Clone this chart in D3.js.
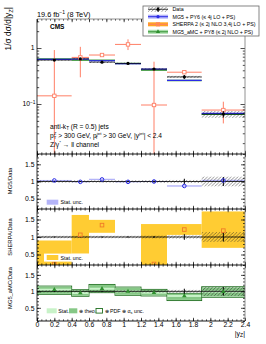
<!DOCTYPE html>
<html lang="en">
<head>
<meta charset="UTF-8">
<title>Z + jet |y_Z|</title>
<script src="https://d3js.org/d3.v7.min.js"></script>
<style>
  body { margin: 0; background: #fff; }
  svg { display: block; font-family: "Liberation Sans", Arial, sans-serif; }
  .axis path { display: none; }
  .axis line { stroke: #000; stroke-width: 0.7; }
  .axis text { font-size: 6.8px; fill: #000; }
</style>
</head>
<body>
<svg width="266" height="344"></svg>
<script>
// bins in |y_Z|
const binEdges = [0, 0.4, 0.6, 0.9, 1.2, 1.5, 1.9, 2.4];
// measured data, normalised cross section
const dataVal = [0.61, 0.64, 0.56, 0.53, 0.42, 0.305, 0.066];
const dataStat = [0.015, 0.015, 0.02, 0.02, 0.03, 0.08, 0.13];   // relative
const dataTot = [0.035, 0.035, 0.035, 0.035, 0.04, 0.045, 0.14]; // relative (hatched)
// MG5 + PY6, ratio to data
const mg5Ratio = [1.03, 0.99, 1.06, 0.99, 1.0, 0.87, 1.03];
const mg5Stat = [0.015, 0.015, 0.02, 0.015, 0.015, 0.02, 0.02];
// SHERPA 2
const sherpaVal = [0.14, 0.68, 0.75, 1.16, 0.096, 0.37, 0.078];
const sherpaLo = [0.005, 0.30, 0.72, 0.92, 0.005, 0.36, 0.045];
const sherpaHi = [0.92, 1.05, 0.79, 1.43, 0.57, 0.38, 0.11];
const sherpaBandLo = [0.05, 0.52, 1.12, 1.9, 0.05, 1.06, 0.69];
const sherpaBandHi = [0.9, 1.63, 1.49, 2.5, 1.37, 1.37, 1.73];
// MG5_aMC + PY8, ratio to data
const amcRatio = [1.05, 0.95, 1.08, 1.0, 0.96, 0.86, 0.99];
const amcStatLo = [1.02, 0.92, 1.05, 0.97, 0.93, 0.83, 0.96];
const amcStatHi = [1.08, 0.98, 1.11, 1.03, 0.99, 0.89, 1.02];
const amcTheoLo = [0.925, 0.865, 0.975, 0.895, 0.875, 0.74, 0.84];
const amcTheoHi = [1.145, 1.035, 1.195, 1.115, 1.045, 0.925, 1.12];
const amcTotLo = [0.91, 0.85, 0.96, 0.88, 0.86, 0.72, 0.82];
const amcTotHi = [1.16, 1.05, 1.21, 1.13, 1.06, 0.94, 1.14];

const xTicks = [0, 0.2, 0.4, 0.6, 0.8, 1, 1.2, 1.4, 1.6, 1.8, 2, 2.2, 2.4];
const ratioTicks = [0.5, 1, 1.5];
const legendLabels = ["Data", "MG5 + PY6 (\u2264 4j LO + PS)",
  "SHERPA 2 (\u2264 2j NLO 3,4j LO + PS)", "MG5_aMC + PY8 (\u2264 2j NLO + PS)"];

const bins = dataVal.map((v, i) => ({
  i, x0: binEdges[i], x1: binEdges[i + 1], xc: (binEdges[i] + binEdges[i + 1]) / 2, v
}));

const svg = d3.select("svg");
const defs = svg.append("defs");
defs.append("pattern").attr("id", "hatch").attr("patternUnits", "userSpaceOnUse")
  .attr("width", 3.4).attr("height", 3.4)
  .append("path").attr("d", "M-1,1 l2,-2 M0,3.4 l3.4,-3.4 M2.4,4.4 l2,-2")
  .attr("stroke", "#222").attr("stroke-width", 0.5);

const L = 37, R = 245;
const x = d3.scaleLinear().domain([0, 2.4]).range([L, R]);
const yTop = d3.scaleLog().domain([0.0128, 3.3]).range([154, 19]);
const r1 = d3.scaleLinear().domain([0.2, 1.8]).range([209, 154]);
const r2 = d3.scaleLinear().domain([0.2, 1.8]).range([265, 209]);
const r3 = d3.scaleLinear().domain([0.1, 1.8]).range([321, 265]);

const blue = "#2a2ae6", blueBand = "#b4b4f8";
const salmon = "#ff7f66", orange = "#f07a28", yellow = "#ffcc33";
const green = "#2f8f2f", greenLight = "#c8f2c8", greenMid = "#86c886", greenDark = "#1f6f1f";

function panel(id, yScale) {
  const [yb, yt] = yScale.range();
  defs.append("clipPath").attr("id", id).append("rect")
    .attr("x", L).attr("y", yt).attr("width", R - L).attr("height", yb - yt);
  return svg.append("g").attr("clip-path", `url(#${id})`);
}

function xAxes(yScale, withLabels) {
  const [yb, yt] = yScale.range();
  const minor = d3.range(0, 49).map(k => k * 0.05);
  svg.append("g").attr("class", "axis").attr("transform", `translate(0,${yb})`)
    .call(d3.axisBottom(x).tickValues(minor).tickSize(-1.6).tickFormat(""));
  svg.append("g").attr("class", "axis").attr("transform", `translate(0,${yb})`)
    .call(d3.axisBottom(x).tickValues(xTicks).tickSize(-3.2).tickPadding(1)
      .tickFormat(withLabels ? (d => String(d)) : ""));
  svg.append("g").attr("class", "axis").attr("transform", `translate(0,${yt})`)
    .call(d3.axisTop(x).tickValues(minor).tickSize(-1.6).tickFormat(""));
  svg.append("g").attr("class", "axis").attr("transform", `translate(0,${yt})`)
    .call(d3.axisTop(x).tickValues(xTicks).tickSize(-3.2).tickFormat(""));
}

function ratioAxes(yScale) {
  const dom = yScale.domain();
  const minor = d3.range(Math.ceil(dom[0] * 10), Math.floor(dom[1] * 10) + 1).map(k => k / 10);
  svg.append("g").attr("class", "axis").attr("transform", `translate(${L},0)`)
    .call(d3.axisLeft(yScale).tickValues(minor).tickSize(-2).tickFormat(""));
  svg.append("g").attr("class", "axis").attr("transform", `translate(${L},0)`)
    .call(d3.axisLeft(yScale).tickValues(ratioTicks).tickSize(-4).tickPadding(2.5)
      .tickFormat(d => String(d)));
  svg.append("g").attr("class", "axis").attr("transform", `translate(${R},0)`)
    .call(d3.axisRight(yScale).tickValues(minor).tickSize(-2).tickFormat(""));
  svg.append("g").attr("class", "axis").attr("transform", `translate(${R},0)`)
    .call(d3.axisRight(yScale).tickValues(ratioTicks).tickSize(-4).tickFormat(""));
}

// ---------- top panel ----------
const gTop = panel("cTop", yTop);
// data hatched band
gTop.selectAll(".dh").data(bins).join("rect")
  .attr("x", d => x(d.x0)).attr("width", d => x(d.x1) - x(d.x0))
  .attr("y", d => yTop(d.v * (1 + dataTot[d.i])))
  .attr("height", d => yTop(d.v * (1 - dataTot[d.i])) - yTop(d.v * (1 + dataTot[d.i])))
  .attr("fill", "url(#hatch)").attr("stroke", "none");
// aMC
gTop.selectAll(".amc").data(bins).join("line")
  .attr("x1", d => x(d.x0)).attr("x2", d => x(d.x1))
  .attr("y1", d => yTop(d.v * amcRatio[d.i])).attr("y2", d => yTop(d.v * amcRatio[d.i]))
  .attr("stroke", green).attr("stroke-width", 1.4);
// MG5
gTop.selectAll(".mg5").data(bins).join("line")
  .attr("x1", d => x(d.x0)).attr("x2", d => x(d.x1))
  .attr("y1", d => yTop(d.v * mg5Ratio[d.i])).attr("y2", d => yTop(d.v * mg5Ratio[d.i]))
  .attr("stroke", blue).attr("stroke-width", 1.2);
// data line
gTop.selectAll(".dl").data(bins).join("line")
  .attr("x1", d => x(d.x0)).attr("x2", d => x(d.x1))
  .attr("y1", d => yTop(d.v)).attr("y2", d => yTop(d.v))
  .attr("stroke", "#000").attr("stroke-width", 0.7);
// SHERPA
gTop.selectAll(".sh").data(bins).join("line")
  .attr("x1", d => x(d.x0)).attr("x2", d => x(d.x1))
  .attr("y1", d => yTop(sherpaVal[d.i])).attr("y2", d => yTop(sherpaVal[d.i]))
  .attr("stroke", salmon).attr("stroke-width", 1);
gTop.selectAll(".she").data(bins).join("line")
  .attr("x1", d => x(d.xc)).attr("x2", d => x(d.xc))
  .attr("y1", d => yTop(sherpaHi[d.i])).attr("y2", d => yTop(sherpaLo[d.i]))
  .attr("stroke", salmon).attr("stroke-width", 1);
gTop.selectAll(".shm").data(bins).join("rect")
  .attr("x", d => x(d.xc) - 1.7).attr("y", d => yTop(sherpaVal[d.i]) - 1.7)
  .attr("width", 3.4).attr("height", 3.4)
  .attr("fill", "#fff").attr("stroke", salmon).attr("stroke-width", 0.9);
// data points
gTop.selectAll(".de").data(bins).join("line")
  .attr("x1", d => x(d.xc)).attr("x2", d => x(d.xc))
  .attr("y1", d => yTop(d.v * (1 + dataStat[d.i]))).attr("y2", d => yTop(d.v * (1 - dataStat[d.i])))
  .attr("stroke", "#000").attr("stroke-width", 1);
gTop.selectAll(".dp").data(bins).join("circle")
  .attr("cx", d => x(d.xc)).attr("cy", d => yTop(d.v)).attr("r", 1.6).attr("fill", "#000");

// log axis ticks
const logMajor = [0.1, 1];
const logMinor = [];
[0.01, 0.1, 1].forEach(dec => d3.range(2, 10).forEach(m => {
  const v = dec * m;
  if (v > yTop.domain()[0] && v < yTop.domain()[1]) logMinor.push(v);
}));
svg.append("g").attr("class", "axis").attr("transform", `translate(${L},0)`)
  .call(d3.axisLeft(yTop).tickValues(logMinor).tickSize(-2.2).tickFormat(""));
svg.append("g").attr("class", "axis").attr("transform", `translate(${L},0)`)
  .call(d3.axisLeft(yTop).tickValues(logMajor).tickSize(-4.5).tickFormat(""));
svg.append("g").attr("class", "axis").attr("transform", `translate(${R},0)`)
  .call(d3.axisRight(yTop).tickValues(logMinor).tickSize(-2.2).tickFormat(""));
svg.append("g").attr("class", "axis").attr("transform", `translate(${R},0)`)
  .call(d3.axisRight(yTop).tickValues(logMajor).tickSize(-4.5).tickFormat(""));
svg.append("text").attr("x", L - 2.5).attr("y", yTop(1) + 2.4).attr("text-anchor", "end")
  .attr("font-size", 6.8).text("1");
const t10 = svg.append("text").attr("x", L - 1.5).attr("y", yTop(0.1) + 2.4)
  .attr("text-anchor", "end").attr("font-size", 6.8);
t10.append("tspan").text("10");
t10.append("tspan").attr("dy", -2.6).attr("font-size", 4.8).text("\u22121");
xAxes(yTop, false);

// ---------- ratio panel 1: MG5 ----------
const g1 = panel("c1", r1);
g1.selectAll(".b").data(bins).join("rect")
  .attr("x", d => x(d.x0)).attr("width", d => x(d.x1) - x(d.x0))
  .attr("y", d => r1(mg5Ratio[d.i] + mg5Stat[d.i]))
  .attr("height", d => r1(mg5Ratio[d.i] - mg5Stat[d.i]) - r1(mg5Ratio[d.i] + mg5Stat[d.i]))
  .attr("fill", blueBand);

function dataRatio(g, s) {
  g.selectAll(".dh").data(bins).join("rect")
    .attr("x", d => x(d.x0)).attr("width", d => x(d.x1) - x(d.x0))
    .attr("y", d => s(1 + dataTot[d.i]))
    .attr("height", d => s(1 - dataTot[d.i]) - s(1 + dataTot[d.i]))
    .attr("fill", "url(#hatch)");
  g.append("line").attr("x1", L).attr("x2", R).attr("y1", s(1)).attr("y2", s(1))
    .attr("stroke", "#000").attr("stroke-width", 0.8);
  g.selectAll(".de").data(bins).join("line")
    .attr("x1", d => x(d.xc)).attr("x2", d => x(d.xc))
    .attr("y1", d => s(1 + dataStat[d.i])).attr("y2", d => s(1 - dataStat[d.i]))
    .attr("stroke", "#000").attr("stroke-width", 1);
}
dataRatio(g1, r1);
g1.selectAll(".m").data(bins).join("circle")
  .attr("cx", d => x(d.xc)).attr("cy", d => r1(mg5Ratio[d.i])).attr("r", 1.8)
  .attr("fill", "none").attr("stroke", blue).attr("stroke-width", 1);
xAxes(r1, false);
ratioAxes(r1);

// ---------- ratio panel 2: SHERPA ----------
const g2 = panel("c2", r2);
g2.selectAll(".b").data(bins).join("rect")
  .attr("x", d => x(d.x0)).attr("width", d => x(d.x1) - x(d.x0))
  .attr("y", d => r2(sherpaBandHi[d.i]))
  .attr("height", d => r2(sherpaBandLo[d.i]) - r2(sherpaBandHi[d.i]))
  .attr("fill", yellow);
dataRatio(g2, r2);
g2.selectAll(".m").data(bins).join("rect")
  .attr("x", d => x(d.xc) - 1.8).attr("y", d => r2(sherpaVal[d.i] / d.v) - 1.8)
  .attr("width", 3.6).attr("height", 3.6)
  .attr("fill", "none").attr("stroke", orange).attr("stroke-width", 0.9);
xAxes(r2, false);
ratioAxes(r2);

// ---------- ratio panel 3: MG5_aMC ----------
const g3 = panel("c3", r3);
g3.selectAll(".tot").data(bins).join("rect")
  .attr("x", d => x(d.x0)).attr("width", d => x(d.x1) - x(d.x0))
  .attr("y", d => r3(amcTotHi[d.i])).attr("height", d => r3(amcTotLo[d.i]) - r3(amcTotHi[d.i]))
  .attr("fill", "#fff").attr("stroke", greenDark).attr("stroke-width", 0.9);
g3.selectAll(".theo").data(bins).join("rect")
  .attr("x", d => x(d.x0) + 0.5).attr("width", d => x(d.x1) - x(d.x0) - 1)
  .attr("y", d => r3(amcTheoHi[d.i])).attr("height", d => r3(amcTheoLo[d.i]) - r3(amcTheoHi[d.i]))
  .attr("fill", greenMid);
g3.selectAll(".stat").data(bins).join("rect")
  .attr("x", d => x(d.x0) + 0.5).attr("width", d => x(d.x1) - x(d.x0) - 1)
  .attr("y", d => r3(amcStatHi[d.i])).attr("height", d => r3(amcStatLo[d.i]) - r3(amcStatHi[d.i]))
  .attr("fill", greenLight);
dataRatio(g3, r3);
g3.selectAll(".m").data(bins).join("path")
  .attr("d", d3.symbol(d3.symbolTriangle, 9))
  .attr("transform", d => `translate(${x(d.xc)},${r3(amcRatio[d.i])})`)
  .attr("fill", green);
xAxes(r3, true);
ratioAxes(r3);

// frame
svg.append("line").attr("x1", L).attr("x2", L).attr("y1", 19).attr("y2", 321).attr("stroke", "#000").attr("stroke-width", 0.8);
svg.append("line").attr("x1", R).attr("x2", R).attr("y1", 19).attr("y2", 321).attr("stroke", "#777").attr("stroke-width", 0.8);
svg.append("line").attr("x1", L).attr("x2", R).attr("y1", 19).attr("y2", 19).attr("stroke", "#777").attr("stroke-width", 0.8);
[154, 209, 265, 321].forEach(yy => svg.append("line").attr("x1", L).attr("x2", R)
  .attr("y1", yy).attr("y2", yy).attr("stroke", "#000").attr("stroke-width", 0.9));

// ---------- texts ----------
svg.append("text").attr("x", 37).attr("y", 16.5).attr("font-size", 7.3)
  .html('19.6 fb<tspan dy="-2.6" font-size="5">\u22121</tspan><tspan dy="2.6"> (8 TeV)</tspan>');
svg.append("text").attr("x", 50).attr("y", 29).attr("font-size", 6.5).attr("font-weight", "bold").text("CMS");

const yt = svg.append("text").attr("transform", "translate(11,7) rotate(-90)")
  .attr("text-anchor", "end").attr("font-size", 8.4);
yt.html('1/\u03c3 d\u03c3/d|y<tspan dy="1.8" font-size="5.8">Z</tspan><tspan dy="-1.8">|</tspan>');

const ann = [
  'anti-k<tspan dy="1.6" font-size="4.6">T</tspan><tspan dy="-1.6"> (R = 0.5) jets</tspan>',
  'p<tspan dy="-2.4" font-size="4.4">Z</tspan><tspan dx="-2.6" dy="4.2" font-size="4.4">T</tspan><tspan dy="-1.8"> &gt; 300 GeV, p</tspan><tspan dy="-2.4" font-size="4.4">jet</tspan><tspan dx="-6" dy="4.2" font-size="4.4">T</tspan><tspan dy="-1.8" dx="3"> &gt; 30 GeV, |y</tspan><tspan dy="-2.4" font-size="4.4">jet</tspan><tspan dy="2.4">| &lt; 2.4</tspan>',
  'Z/\u03b3<tspan dy="-2.4" font-size="4.4">*</tspan><tspan dy="2.4"> \u2192 ll channel</tspan>'
];
ann.forEach((h, k) => svg.append("text").attr("x", 50).attr("y", 128.5 + k * 9)
  .attr("font-size", 6.6).html(h));

[["MG5/Data", 181], ["SHERPA/Data", 237], ["MG5_aMC/Data", 288]].forEach(([t, cy]) =>
  svg.append("text").attr("transform", `translate(12,${cy}) rotate(-90)`)
    .attr("text-anchor", "middle").attr("font-size", 5.8).text(t));

svg.append("text").attr("x", 245).attr("y", 335.5).attr("text-anchor", "end").attr("font-size", 7)
  .html('|y<tspan dy="1.8" font-size="5">Z</tspan><tspan dy="-1.8">|</tspan>');

// ---------- top legend ----------
const lg = svg.append("g");
lg.append("rect").attr("x", 143).attr("y", 6).attr("width", 116).attr("height", 30)
  .attr("fill", "#fff").attr("stroke", "#666").attr("stroke-width", 0.8);
const rows = [9.3, 16.7, 24.3, 31.8];
const sx0 = 148, sx1 = 168, sxc = 158;
// data
lg.append("rect").attr("x", sx0).attr("y", rows[0] - 2.5).attr("width", 20).attr("height", 5).attr("fill", "url(#hatch)");
lg.append("line").attr("x1", sx0).attr("x2", sx1).attr("y1", rows[0]).attr("y2", rows[0]).attr("stroke", "#000").attr("stroke-width", 0.7);
lg.append("line").attr("x1", sxc).attr("x2", sxc).attr("y1", rows[0] - 2.5).attr("y2", rows[0] + 2.5).attr("stroke", "#000");
lg.append("circle").attr("cx", sxc).attr("cy", rows[0]).attr("r", 1.5);
// MG5
lg.append("rect").attr("x", sx0).attr("y", rows[1] - 2).attr("width", 20).attr("height", 4).attr("fill", blueBand);
lg.append("line").attr("x1", sx0).attr("x2", sx1).attr("y1", rows[1]).attr("y2", rows[1]).attr("stroke", blue).attr("stroke-width", 1);
lg.append("circle").attr("cx", sxc).attr("cy", rows[1]).attr("r", 1.6).attr("fill", blue);
// SHERPA
lg.append("rect").attr("x", sx0).attr("y", rows[2] - 2).attr("width", 20).attr("height", 4).attr("fill", "#ffa520");
lg.append("line").attr("x1", sx0).attr("x2", sx1).attr("y1", rows[2]).attr("y2", rows[2]).attr("stroke", salmon).attr("stroke-width", 1);
lg.append("rect").attr("x", sxc - 1.6).attr("y", rows[2] - 1.6).attr("width", 3.2).attr("height", 3.2)
  .attr("fill", "none").attr("stroke", salmon).attr("stroke-width", 0.9);
// aMC
lg.append("rect").attr("x", sx0).attr("y", rows[3] - 2).attr("width", 20).attr("height", 4).attr("fill", "#a8dca8");
lg.append("line").attr("x1", sx0).attr("x2", sx1).attr("y1", rows[3]).attr("y2", rows[3]).attr("stroke", green).attr("stroke-width", 1);
lg.append("path").attr("d", d3.symbol(d3.symbolTriangle, 8)).attr("transform", `translate(${sxc},${rows[3]})`).attr("fill", green);
legendLabels.forEach((t, k) => lg.append("text").attr("x", 172.5).attr("y", rows[k] + 1.9)
  .attr("font-size", 5.3).text(t));

// ---------- ratio legends ----------
svg.append("rect").attr("x", 46.7).attr("y", 199.7).attr("width", 11.6).attr("height", 5).attr("fill", blueBand);
svg.append("text").attr("x", 60.5).attr("y", 204.3).attr("font-size", 5.3).text("Stat. unc.");

svg.append("rect").attr("x", 44).attr("y", 253.6).attr("width", 46).attr("height", 8).attr("fill", "#fff");
svg.append("rect").attr("x", 46.7).attr("y", 255).attr("width", 11.6).attr("height", 5).attr("fill", yellow);
svg.append("text").attr("x", 60.5).attr("y", 259.6).attr("font-size", 5.3).text("Stat. unc.");

svg.append("rect").attr("x", 46.7).attr("y", 308.3).attr("width", 10).attr("height", 5).attr("fill", greenLight);
svg.append("text").attr("x", 58.3).attr("y", 312.9).attr("font-size", 5.3).text("Stat.");
svg.append("rect").attr("x", 69).attr("y", 308.3).attr("width", 8.3).attr("height", 5).attr("fill", greenMid);
svg.append("text").attr("x", 79).attr("y", 312.9).attr("font-size", 5.3).text("\u2295 theo.");
svg.append("rect").attr("x", 96).attr("y", 308.5).attr("width", 6.5).attr("height", 4.6)
  .attr("fill", "#fff").attr("stroke", greenDark).attr("stroke-width", 0.9);
svg.append("text").attr("x", 104.5).attr("y", 312.9).attr("font-size", 5.3)
  .html('\u2295 PDF \u2295 \u03b1<tspan dy="1.3" font-size="3.8">s</tspan><tspan dy="-1.3"> unc.</tspan>');
</script>
</body>
</html>
